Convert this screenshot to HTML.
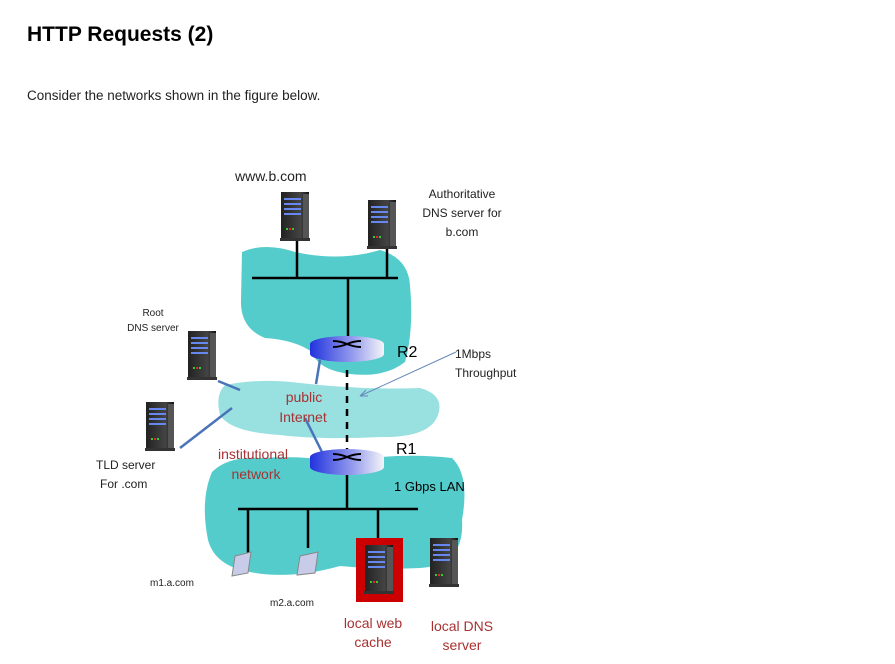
<!DOCTYPE html>
<html><head><meta charset="utf-8"><style>
body{margin:0;background:#fff;width:895px;height:664px;overflow:hidden;font-family:"Liberation Sans",sans-serif;}
h1{position:absolute;left:27px;top:23px;margin:0;font-size:21px;font-weight:bold;color:#000;}
p{position:absolute;left:27px;top:88px;margin:0;font-size:13.5px;color:#222;}
svg{position:absolute;left:0;top:0;}
</style></head><body>
<h1>HTTP Requests (2)</h1>
<p>Consider the networks shown in the figure below.</p>
<svg width="895" height="664" viewBox="0 0 895 664" font-family="Liberation Sans, sans-serif">
<defs>
<linearGradient id="rg" x1="0" x2="1"><stop offset="0" stop-color="#2233dd"/><stop offset="0.6" stop-color="#9aa0ee"/><stop offset="1" stop-color="#f4f4f8"/></linearGradient>
<linearGradient id="sv" x1="0" x2="1"><stop offset="0" stop-color="#222"/><stop offset="0.7" stop-color="#444"/><stop offset="1" stop-color="#111"/></linearGradient>
<g id="srv">
<rect x="0" y="0" width="28" height="48" fill="url(#sv)"/>
<rect x="22" y="2" width="6" height="44" fill="#555"/>
<rect x="3" y="6" width="17" height="2" fill="#6688ee"/>
<rect x="3" y="11" width="17" height="2" fill="#6688ee"/>
<rect x="3" y="16" width="17" height="2" fill="#6688ee"/>
<rect x="3" y="21" width="17" height="2" fill="#6688ee"/>
<rect x="5" y="36" width="2" height="2" fill="#3c3"/><rect x="8" y="36" width="2" height="2" fill="#e22"/><rect x="11" y="36" width="2" height="2" fill="#3c3"/>
<rect x="-1" y="46" width="30" height="3" fill="#333"/>
</g>
</defs>
<path d="M242 252 Q265 242 295 252 Q340 262 380 250 Q408 258 410 285 Q414 330 405 362 Q385 378 350 374 Q318 370 312 352 Q295 340 265 338 Q240 328 241 300 Z" fill="#55cccc"/>
<path d="M225 385 Q260 378 300 383 Q360 390 420 388 Q445 395 438 415 Q430 438 380 437 Q320 440 280 435 Q230 432 220 415 Q215 395 225 385 Z" fill="#99e0e0"/>
<path d="M212 472 Q228 456 262 458 Q300 455 340 462 Q400 452 452 458 Q470 475 462 520 Q465 565 420 568 Q380 570 340 566 Q290 580 250 572 Q215 566 208 540 Q200 500 212 472 Z" fill="#55cccc"/>
<g stroke="#000" stroke-width="2.5" fill="none">
<line x1="252" y1="278" x2="398" y2="278"/>
<line x1="297" y1="240" x2="297" y2="278"/>
<line x1="387" y1="245" x2="387" y2="278"/>
<line x1="348" y1="278" x2="348" y2="343"/>
<line x1="238" y1="509" x2="418" y2="509"/>
<line x1="347" y1="472" x2="347" y2="509"/>
<line x1="248" y1="509" x2="248" y2="553"/>
<line x1="308" y1="509" x2="308" y2="548"/>
<line x1="378" y1="509" x2="378" y2="540"/>
<line x1="347" y1="370" x2="347" y2="450" stroke-dasharray="7,6"/>
</g>
<g stroke="#4a73b8" stroke-width="2.5" fill="none">
<line x1="218" y1="381" x2="240" y2="390"/>
<line x1="180" y1="448" x2="232" y2="408"/>
<line x1="320" y1="360" x2="316" y2="384"/>
<line x1="305" y1="418" x2="322" y2="452"/>
</g>
<line x1="456" y1="352" x2="360" y2="396" stroke="#6688bb" stroke-width="1"/>
<path d="M360 396 L366 390 M360 396 L368 396" stroke="#6688bb" stroke-width="1"/>
<g>
<path d="M310 344 v10 a37 8 0 0 0 74 0 v-10 z" fill="url(#rg)"/>
<ellipse cx="347" cy="344" rx="37" ry="8" fill="url(#rg)"/>
<path d="M333 341 q7 0 14 3 q7 3 14 3 M333 347 q7 0 14 -3 q7 -3 14 -3" stroke="#000" stroke-width="2" fill="none"/>
</g>
<g>
<path d="M310 457 v10 a37 8 0 0 0 74 0 v-10 z" fill="url(#rg)"/>
<ellipse cx="347" cy="457" rx="37" ry="8" fill="url(#rg)"/>
<path d="M333 454 q7 0 14 3 q7 3 14 3 M333 460 q7 0 14 -3 q7 -3 14 -3" stroke="#000" stroke-width="2" fill="none"/>
</g>
<use href="#srv" x="281" y="192"/>
<use href="#srv" x="368" y="200"/>
<use href="#srv" x="188" y="331"/>
<use href="#srv" x="146" y="402"/>
<rect x="356" y="538" width="47" height="64" fill="#c00"/>
<use href="#srv" x="365" y="545"/>
<use href="#srv" x="430" y="538"/>
<path d="M235 556 L251 552 L248 573 L232 576 Z" fill="#c8cce8" stroke="#888"/>
<path d="M300 556 L318 552 L315 573 L297 575 Z" fill="#c8cce8" stroke="#888"/>
<g font-size="13" fill="#222">
<text x="235" y="181" font-size="14">www.b.com</text>
<text x="462" y="198" text-anchor="middle" font-size="12">Authoritative</text>
<text x="462" y="217" text-anchor="middle" font-size="12">DNS server for</text>
<text x="462" y="236" text-anchor="middle" font-size="12">b.com</text>
<text x="153" y="316" text-anchor="middle" font-size="10">Root</text>
<text x="153" y="331" text-anchor="middle" font-size="10">DNS server</text>
<text x="397" y="357" font-size="16" fill="#000">R2</text>
<text x="396" y="454" font-size="16" fill="#000">R1</text>
<text x="455" y="358" font-size="12">1Mbps</text>
<text x="455" y="377" font-size="12">Throughput</text>
<text x="96" y="469" font-size="12">TLD server</text>
<text x="100" y="488" font-size="12">For .com</text>
<text x="394" y="491" font-size="13" fill="#000">1 Gbps LAN</text>
<text x="150" y="586" font-size="10">m1.a.com</text>
<text x="270" y="606" font-size="10">m2.a.com</text>
</g>
<g fill="#a83232" font-size="14" text-anchor="middle">
<text x="304" y="402">public</text>
<text x="303" y="422">Internet</text>
<text x="253" y="459">institutional</text>
<text x="256" y="479">network</text>
<text x="373" y="628">local web</text>
<text x="373" y="647">cache</text>
<text x="462" y="631">local DNS</text>
<text x="462" y="650">server</text>
</g>
</svg>
</body></html>
